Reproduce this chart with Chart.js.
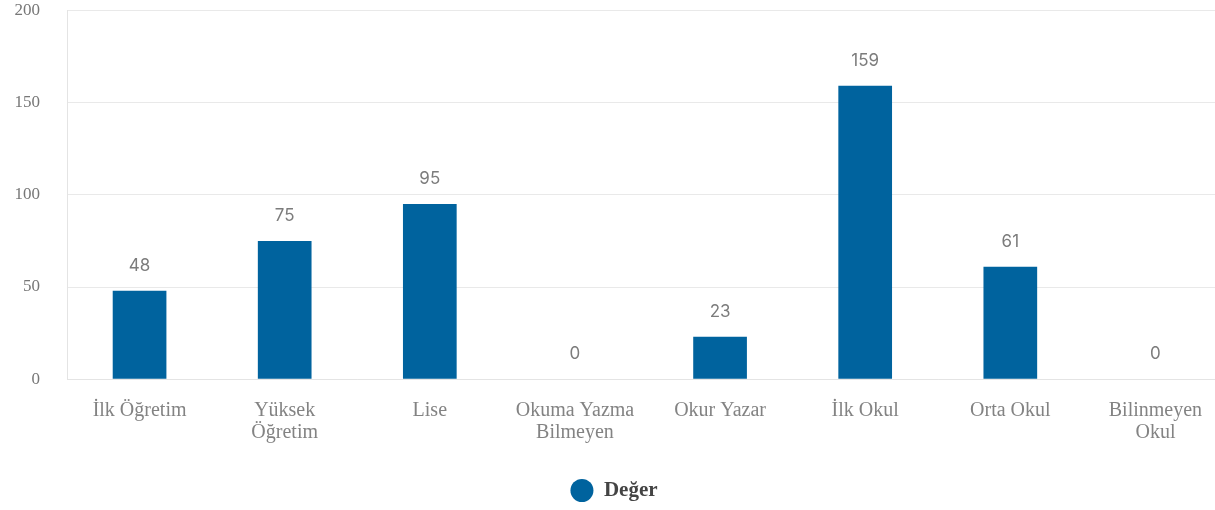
<!DOCTYPE html>
<html>
<head>
<meta charset="utf-8">
<script src="https://cdn.jsdelivr.net/npm/chart.js@4"></script>
<style>
  html, body { margin: 0; padding: 0; background: #fff; overflow: hidden; }
  #wrap { width: 1228px; height: 539px; margin-top: -27px; }
</style>
</head>
<body>
<div id="wrap"><canvas id="chart"></canvas></div>
<script>
// categories and values
const categories = [
    'İlk Öğretim',
    ['Yüksek', 'Öğretim'],
    'Lise',
    ['Okuma Yazma', 'Bilmeyen'],
    'Okur Yazar',
    'İlk Okul',
    'Orta Okul',
    ['Bilinmeyen', 'Okul']
];
const values = [48, 75, 95, 0, 23, 159, 61, 0];
const yTicks = [0, 50, 100, 150, 200];

const serif = "'Liberation Serif', 'DejaVu Serif', serif";

// draws the number above every bar
const valueLabels = {
    id: 'valueLabels',
    afterDatasetsDraw(chart) {
        const ctx = chart.ctx;
        const meta = chart.getDatasetMeta(0);
        ctx.save();
        ctx.font = '17px Inter, sans-serif';
        ctx.fillStyle = '#7c7c7c';
        ctx.textAlign = 'center';
        ctx.textBaseline = 'middle';
        meta.data.forEach((bar, i) => {
            ctx.fillText(String(values[i]), bar.x, bar.y - 25);
        });
        ctx.restore();
    }
};

new Chart(document.getElementById('chart'), {
    type: 'bar',
    data: {
        labels: categories,
        datasets: [{
            label: 'Değer',
            data: values,
            backgroundColor: '#00639e',
            borderWidth: 0,
            barPercentage: 0.37,
            categoryPercentage: 1
        }]
    },
    options: {
        responsive: true,
        maintainAspectRatio: false,
        animation: false,
        layout: { padding: { left: 0, top: 0, right: 0, bottom: 1 } },
        plugins: {
            legend: {
                position: 'bottom',
                labels: {
                    usePointStyle: true,
                    pointStyle: 'circle',
                    boxHeight: 16.3,
                    pointStyleWidth: 23,
                    color: '#444',
                    padding: 16.7,
                    font: { family: serif, size: 21, weight: 'bold' }
                }
            },
            tooltip: { enabled: false }
        },
        scales: {
            y: {
                min: 0,
                max: 200,
                afterBuildTicks: (axis) => { axis.ticks = yTicks.map(v => ({ value: v })); },
                afterFit: (axis) => { axis.width = 67; },
                ticks: {
                    color: '#777',
                    padding: 27,
                    font: { family: serif, size: 17 }
                },
                grid: { color: '#e9e9e9', drawTicks: false },
                border: { color: '#e4e4e4' }
            },
            x: {
                ticks: {
                    color: '#838383',
                    padding: 20,
                    maxRotation: 0,
                    autoSkip: false,
                    font: { family: serif, size: 20, lineHeight: 1.1 }
                },
                grid: { display: false, drawTicks: false },
                border: { color: '#e4e4e4' }
            }
        }
    },
    plugins: [valueLabels]
});
</script>
</body>
</html>
